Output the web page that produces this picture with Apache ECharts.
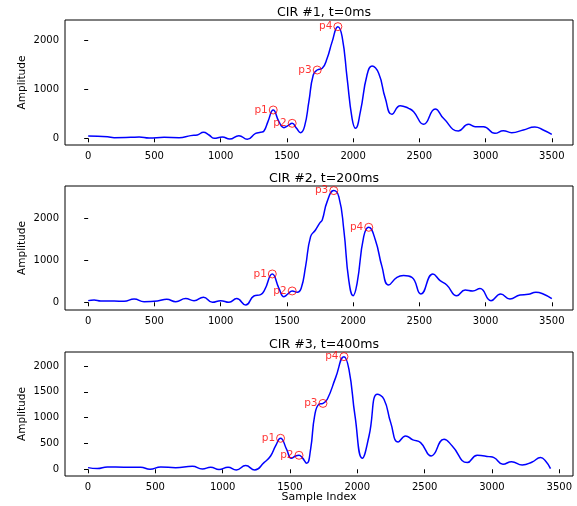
<!DOCTYPE html>
<html>
<head>
<meta charset="utf-8">
<script src="https://cdn.jsdelivr.net/npm/echarts@6/dist/echarts.min.js"></script>
<style>
html, body { margin: 0; padding: 0; background: #fff; }
#chart { width: 577px; height: 506px; }
</style>
</head>
<body>
<div id="chart"></div>
<script>
// CIR #1, t=0ms
var cir1X = [0, 146, 196, 322, 385, 460, 573, 686, 774, 824, 870, 912, 950, 1013, 1068, 1138, 1201, 1264, 1302, 1327, 1357, 1397, 1440, 1478, 1508, 1540, 1573, 1603, 1633, 1666, 1699, 1729, 1767, 1804, 1842, 1885, 1917, 1955, 1992, 2018, 2055, 2105, 2143, 2193, 2243, 2293, 2356, 2419, 2457, 2532, 2620, 2682, 2795, 2871, 2921, 2984, 3071, 3134, 3197, 3285, 3372, 3435, 3500];
var cir1Y = [48, 34, 14, 20, 27, 7, 20, 14, 55, 68, 123, 68, 0, 27, -14, 55, -20, 102, 123, 150, 341, 580, 341, 218, 259, 307, 205, 116, 239, 751, 1297, 1399, 1433, 1638, 1980, 2287, 2082, 1229, 410, 205, 546, 1297, 1481, 1331, 819, 491, 669, 614, 546, 287, 601, 410, 150, 287, 239, 239, 102, 157, 116, 171, 232, 171, 82];
var cir1PeakX = [1397, 1540, 1729, 1885];
var cir1PeakY = [580, 307, 1399, 2287];

// CIR #2, t=200ms
var cir2X = [0, 45, 95, 196, 271, 347, 422, 523, 593, 661, 736, 799, 870, 938, 1000, 1063, 1121, 1189, 1251, 1302, 1332, 1390, 1440, 1478, 1508, 1540, 1578, 1608, 1641, 1679, 1716, 1749, 1767, 1804, 1854, 1892, 1930, 1967, 2000, 2030, 2080, 2118, 2168, 2218, 2268, 2331, 2381, 2444, 2512, 2602, 2657, 2707, 2783, 2846, 2903, 2958, 3041, 3114, 3184, 3260, 3322, 3380, 3435, 3500];
var cir2Y = [40, 56, 32, 32, 24, 80, 16, 32, 72, 16, 88, 40, 120, 0, 40, 0, 88, -64, 151, 183, 295, 677, 335, 135, 199, 271, 239, 335, 853, 1570, 1729, 1900, 1969, 2407, 2670, 2526, 1729, 534, 159, 454, 1570, 1793, 1490, 853, 414, 598, 638, 598, 199, 677, 518, 414, 159, 295, 271, 327, 40, 199, 80, 175, 191, 239, 199, 88];
var cir2PeakX = [1390, 1540, 1854, 2118];
var cir2PeakY = [677, 271, 2670, 1793];

// CIR #3, t=400ms
var cir3X = [0, 69, 144, 267, 391, 460, 540, 651, 775, 849, 911, 973, 1040, 1101, 1171, 1238, 1307, 1356, 1393, 1430, 1475, 1510, 1542, 1567, 1591, 1624, 1653, 1683, 1715, 1745, 1777, 1839, 1901, 1938, 1983, 2037, 2087, 2149, 2198, 2248, 2304, 2359, 2413, 2470, 2549, 2644, 2705, 2817, 2891, 2978, 3015, 3082, 3146, 3225, 3299, 3361, 3398, 3435];
var cir3Y = [32, 13, 45, 39, 39, 0, 45, 32, 58, 6, 39, -6, 39, -13, 71, -13, 129, 258, 452, 600, 387, 213, 258, 271, 226, 116, 387, 1032, 1258, 1275, 1355, 1774, 2180, 1935, 1032, 213, 645, 1451, 1355, 903, 529, 645, 568, 516, 258, 581, 452, 129, 271, 245, 226, 97, 148, 84, 142, 226, 161, 13];
var cir3PeakX = [1430, 1567, 1745, 1901];
var cir3PeakY = [600, 271, 1275, 2180];

var peakNames = ['p1', 'p2', 'p3', 'p4'];
var titles = ['CIR #1, t=0ms', 'CIR #2, t=200ms', 'CIR #3, t=400ms'];
var yTicks = [[0, 1000, 2000], [0, 1000, 2000], [0, 500, 1000, 1500, 2000]];
var xTicks = [0, 500, 1000, 1500, 2000, 2500, 3000, 3500];

var font = 'DejaVu Sans';
var panels = [
    {x: cir1X, y: cir1Y, px: cir1PeakX, py: cir1PeakY, top: 20, h: 125, xr: [-175, 3660], yr: [-137, 2423]},
    {x: cir2X, y: cir2Y, px: cir2PeakX, py: cir2PeakY, top: 186, h: 124, xr: [-175, 3660], yr: [-184, 2780]},
    {x: cir3X, y: cir3Y, px: cir3PeakX, py: cir3PeakY, top: 352, h: 124, xr: [-171, 3602], yr: [-130, 2270]}
];

var zip = function (a, b) {
    return a.map(function (v, i) { return [v, b[i]]; });
};
var plain = function (v) { return String(v); };

var grids = [], xAxes = [], yAxes = [], series = [], titleList = [];
panels.forEach(function (p, i) {
    grids.push({left: 65, right: 4, top: p.top, height: p.h, show: true,
        borderColor: '#000', borderWidth: 1, containLabel: false});
    titleList.push({text: titles[i], left: 319, textAlign: 'center', top: p.top - 19,
        textStyle: {fontFamily: font, fontSize: 12.6, fontWeight: 'normal', color: '#000'}});
    xAxes.push({type: 'value', gridIndex: i, min: p.xr[0], max: p.xr[1],
        name: i === 2 ? 'Sample Index' : '', nameLocation: 'middle', nameGap: 16,
        nameMoveOverlap: false,
        nameTextStyle: {fontFamily: font, fontSize: 11, color: '#000'},
        axisLine: {show: false}, splitLine: {show: false},
        axisTick: {show: true, inside: false, length: 4, customValues: xTicks, lineStyle: {color: '#000'}},
        axisLabel: {customValues: xTicks, formatter: plain, margin: 6, fontFamily: font, fontSize: 10, color: '#000'}});
    yAxes.push({type: 'value', gridIndex: i, min: p.yr[0], max: p.yr[1],
        name: 'Amplitude', nameLocation: 'middle', nameRotate: 90, nameGap: 37,
        nameMoveOverlap: false,
        nameTextStyle: {fontFamily: font, fontSize: 10.5, color: '#000'},
        axisLine: {show: false}, splitLine: {show: false},
        axisTick: {show: true, inside: false, length: 4, customValues: yTicks[i], lineStyle: {color: '#000'}},
        axisLabel: {customValues: yTicks[i], formatter: plain, margin: 6, fontFamily: font, fontSize: 10, color: '#000'}});
    series.push({type: 'line', xAxisIndex: i, yAxisIndex: i, data: zip(p.x, p.y),
        smooth: 0.5, showSymbol: false, lineStyle: {color: '#0000ff', width: 1.5}, z: 2});
    series.push({type: 'scatter', xAxisIndex: i, yAxisIndex: i,
        data: p.px.map(function (v, k) { return {value: [v, p.py[k]], name: peakNames[k]}; }),
        symbol: 'circle', symbolSize: 8,
        itemStyle: {color: 'transparent', borderColor: '#ff0000', borderWidth: 1},
        label: {show: true, position: 'left', distance: 1, formatter: '{b}',
            fontFamily: font, fontSize: 10.5, color: '#ff0000'}, z: 3});
});

var myChart = echarts.init(document.getElementById('chart'), null, {renderer: 'canvas'});
myChart.setOption({
    animation: false,
    backgroundColor: '#fff',
    title: titleList,
    grid: grids,
    xAxis: xAxes,
    yAxis: yAxes,
    series: series
});
</script>
</body>
</html>
